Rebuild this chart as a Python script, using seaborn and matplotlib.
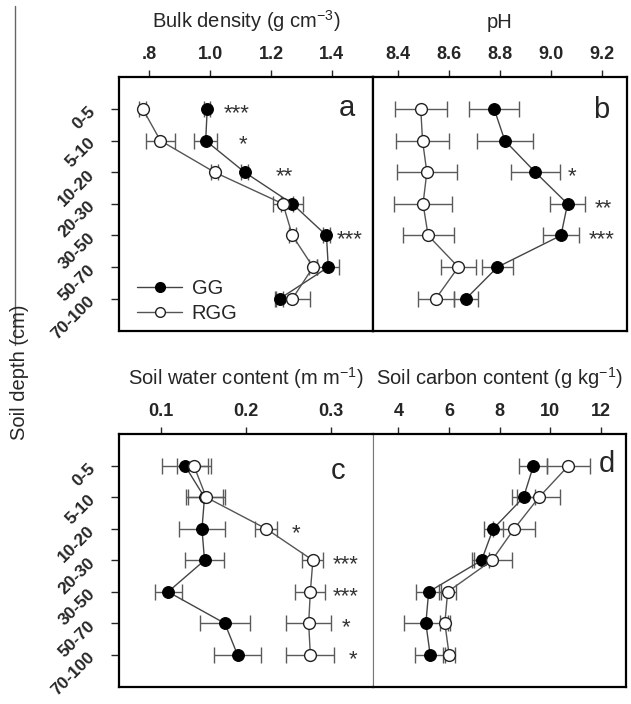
import numpy as np
import pandas as pd
import matplotlib
matplotlib.use("Agg")
import matplotlib.pyplot as plt
from matplotlib.lines import Line2D
import seaborn as sns

depths = ["0-5", "5-10", "10-20", "20-30", "30-50", "50-70", "70-100"]

# bulk density (g cm-3)
bulk_gg = [0.99, 0.985, 1.113, 1.270, 1.382, 1.388, 1.228]
bulk_gg_se = [0.01, 0.037, 0.012, 0.036, 0.012, 0.036, 0.012]
bulk_rgg = [0.778, 0.836, 1.014, 1.239, 1.27, 1.338, 1.27]
bulk_rgg_se = [0.012, 0.047, 0.012, 0.033, 0.012, 0.012, 0.057]
bulk_sig = ["***", "*", "**", "", "***", "", ""]
bulk_sig_x = [1.087, 1.107, 1.245, np.nan, 1.459, np.nan, np.nan]
bulk_ticks = [0.8, 1.0, 1.2, 1.4]
bulk_ticklabels = [".8", "1.0", "1.2", "1.4"]

# pH
ph_gg = [8.777, 8.819, 8.939, 9.066, 9.04, 8.79, 8.666]
ph_gg_se = [0.099, 0.11, 0.097, 0.069, 0.072, 0.06, 0.046]
ph_rgg = [8.488, 8.495, 8.512, 8.497, 8.517, 8.636, 8.547]
ph_rgg_se = [0.103, 0.105, 0.118, 0.115, 0.10, 0.07, 0.07]
ph_sig = ["", "", "*", "**", "***", "", ""]
ph_sig_x = [np.nan, np.nan, 9.084, 9.207, 9.201, np.nan, np.nan]
ph_ticks = [8.4, 8.6, 8.8, 9.0, 9.2]
ph_ticklabels = ["8.4", "8.6", "8.8", "9.0", "9.2"]

# soil water content
swc_gg = [0.128, 0.151, 0.148, 0.151, 0.108, 0.175, 0.190]
swc_gg_se = [0.0275, 0.022, 0.027, 0.023, 0.016, 0.0295, 0.028]
swc_rgg = [0.1385, 0.153, 0.224, 0.279, 0.276, 0.274, 0.276]
swc_rgg_se = [0.0197, 0.022, 0.0128, 0.0124, 0.0177, 0.0266, 0.0284]
swc_sig = ["", "", "*", "***", "***", "*", "*"]
swc_sig_x = [np.nan, np.nan, 0.2586, 0.318, 0.318, 0.3176, 0.326]
swc_ticks = [0.1, 0.2, 0.3]
swc_ticklabels = ["0.1", "0.2", "0.3"]

# soil carbon content
soc_gg = [9.34, 8.95, 7.75, 7.29, 5.2, 5.09, 5.26]
soc_gg_se = [0.55, 0.44, 0.37, 0.3, 0.49, 0.87, 0.59]
soc_rgg = [10.72, 9.56, 8.58, 7.70, 5.95, 5.84, 6.01]
soc_rgg_se = [0.84, 0.85, 0.82, 0.79, 0.33, 0.2, 0.25]
soc_sig = [""] * 7
soc_sig_x = [np.nan] * 7
soc_ticks = [4, 6, 8, 10, 12]
soc_ticklabels = ["4", "6", "8", "10", "12"]

sns.set_style("white")
plt.rcParams["font.family"] = ["Liberation Sans", "DejaVu Sans"]
plt.rcParams["mathtext.fontset"] = "custom"
plt.rcParams["mathtext.rm"] = "Liberation Sans"
plt.rcParams["mathtext.it"] = "Liberation Sans:italic"

W, H = 631, 704
fig = plt.figure(figsize=(W / 100, H / 100), dpi=100)


def px_axes(x0, y0, x1, y1):
    return fig.add_axes([x0 / W, 1 - y1 / H, (x1 - x0) / W, (y1 - y0) / H])


ax_a = px_axes(119, 77, 373, 331)
ax_b = px_axes(373, 77, 627, 331)
ax_c = px_axes(119, 434, 373, 687)
ax_d = px_axes(373, 434, 626, 687)

panels = [
    (ax_a, bulk_gg, bulk_gg_se, bulk_rgg, bulk_rgg_se, bulk_sig, bulk_sig_x,
     bulk_ticks, bulk_ticklabels, (0.7, 1.535), "Bulk density (g cm$^{-3}$)", "a", (0.93, 0.878)),
    (ax_b, ph_gg, ph_gg_se, ph_rgg, ph_rgg_se, ph_sig, ph_sig_x,
     ph_ticks, ph_ticklabels, (8.3, 9.3), "pH", "b", (0.93, 0.870)),
    (ax_c, swc_gg, swc_gg_se, swc_rgg, swc_rgg_se, swc_sig, swc_sig_x,
     swc_ticks, swc_ticklabels, (0.05, 0.35), "Soil water content (m m$^{-1}$)", "c", (0.89, 0.854)),
    (ax_d, soc_gg, soc_gg_se, soc_rgg, soc_rgg_se, soc_sig, soc_sig_x,
     soc_ticks, soc_ticklabels, (3, 13), "Soil carbon content (g kg$^{-1}$)", "d", (0.955, 0.881)),
]

pos = np.arange(len(depths))

for ax, gg, gg_se, rgg, rgg_se, sig, sig_x, ticks, tlabels, xlim, title, letter, lpos in panels:
    df = pd.DataFrame({"depth": pos, "GG": gg, "RGG": rgg, "GG_se": gg_se, "RGG_se": rgg_se})
    ax.errorbar(df["GG"], df["depth"], xerr=df["GG_se"], fmt="none", ecolor="#5a5a5a",
                elinewidth=1, capsize=5.5, capthick=1, zorder=1)
    ax.errorbar(df["RGG"], df["depth"], xerr=df["RGG_se"], fmt="none", ecolor="#5a5a5a",
                elinewidth=1, capsize=5.5, capthick=1, zorder=1)
    sns.lineplot(data=df, x="GG", y="depth", orient="y", sort=False, estimator=None, ax=ax,
                 color="#444444", lw=1, marker="o", markersize=8.5, markerfacecolor="black",
                 markeredgecolor="black", label="GG", zorder=3)
    sns.lineplot(data=df, x="RGG", y="depth", orient="y", sort=False, estimator=None, ax=ax,
                 color="#555555", lw=1, marker="o", markersize=8.5, markerfacecolor="white",
                 markeredgecolor="#222222", markeredgewidth=1, label="RGG", zorder=4)
    for p, s, sx in zip(pos, sig, sig_x):
        if s:
            ax.text(sx, p + 0.14, s, ha="center", va="center", fontsize=16, color="#333333")

    ax.set_xlim(*xlim)
    ax.set_ylim(7.02, -1.01)
    ax.xaxis.tick_top()
    ax.xaxis.set_label_position("top")
    ax.set_xticks(ticks)
    ax.set_xticklabels(tlabels, fontsize=13, fontweight="bold")
    ax.set_xlabel(title, fontsize=14.5, labelpad=13)
    ax.set_ylabel("")
    ax.tick_params(axis="x", direction="out", length=5, width=1, pad=5, top=True, bottom=False)
    for sp in ax.spines.values():
        sp.set_linewidth(1.6)
        sp.set_color("black")
    ax.text(lpos[0], lpos[1], letter, transform=ax.transAxes, ha="right", va="center", fontsize=21)
    if ax.get_legend() is not None:
        ax.get_legend().remove()

for ax in (ax_a, ax_c):
    ax.set_yticks(pos)
    ax.set_yticklabels(depths, rotation=45, ha="right", va="center", rotation_mode="anchor",
                       fontsize=12.5, fontweight="bold")
    ax.tick_params(axis="y", direction="out", length=6, width=1, pad=13, left=True)
for ax in (ax_b, ax_d):
    ax.set_yticks([])

ax_c.spines["right"].set_linewidth(0.8)
ax_c.spines["right"].set_color("#777777")
ax_d.spines["left"].set_linewidth(0.8)
ax_d.spines["left"].set_color("#777777")

handles = [
    Line2D([], [], color="#444444", lw=1, marker="o", markersize=7, markerfacecolor="black",
           markeredgecolor="black"),
    Line2D([], [], color="#555555", lw=1, marker="o", markersize=7, markerfacecolor="white",
           markeredgecolor="#222222"),
]
ax_a.legend(handles, ["GG", "RGG"], loc="lower left", bbox_to_anchor=(0.025, -0.015), frameon=False,
            fontsize=14.5, handlelength=2.2, handletextpad=0.5, labelspacing=0.3,
            borderaxespad=0.2)

fig.text(20 / W, 1 - 372 / H, "Soil depth (cm)", rotation=90, ha="center", va="center",
         fontsize=14.5)
fig.add_artist(Line2D([15 / W, 15 / W], [1 - 6 / H, 1 - 345 / H], color="#666666", lw=1))

fig.savefig("out.png", dpi=100)
